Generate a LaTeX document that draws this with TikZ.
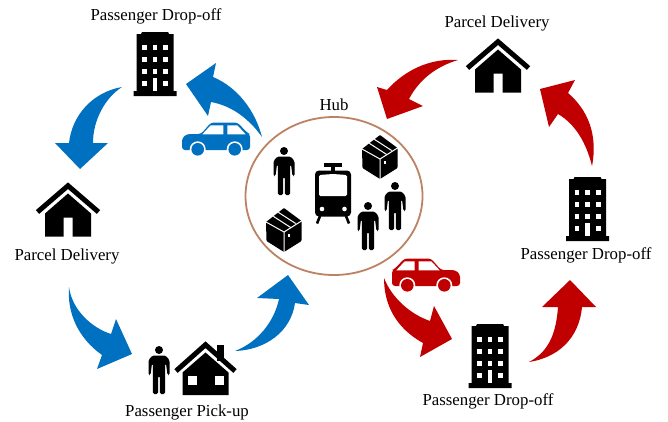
\documentclass[tikz,border=0pt]{standalone}
\usepackage{fontspec}
\setmainfont{Liberation Serif}
\usepackage{xcolor}
\usetikzlibrary{positioning}
\definecolor{routeblue}{HTML}{0070C0}
\definecolor{routered}{HTML}{C00000}
\definecolor{hubring}{HTML}{BC8263}
\tikzset{
    lbl/.style={font=\fontsize{16.8}{20}\selectfont, inner sep=0pt},
    tower/.pic={
        \fill (-13,0) -- (13,0) -- (14,2) -- (18.5,2) -- (18.5,59) -- (21.5,59) -- (21.5,64) -- (-21.5,64) -- (-21.5,59) -- (-18.5,59) -- (-18.5,2) -- (-14,2) -- cycle;
        \foreach \r in {15.3,27.3,39.7} {
            \foreach \c in {-10.7,0,10.7} {
                \fill[white] (\c-2.3,\r-2.3) rectangle (\c+2.3,\r+2.3);
            }
        }
        \fill[white] (-13,49.3) rectangle (-8.4,54);
        \fill[white] (8.4,49.3) rectangle (13,54);
        \fill[white] (-2.3,46) rectangle (2.3,59);
    },
    house/.pic={
        \draw[line width=5pt] (-30.5,30) -- (0,3.7) -- (30.5,30);
        \fill (0,11.5) -- (23,31.5) -- (23,54.5) -- (4.5,54.5) -- (4.5,35.5) -- (-4.5,35.5) -- (-4.5,54.5) -- (-23,54.5) -- (-23,31.5) -- cycle;
    },
    pickhouse/.pic={
        \fill (11.5,4) rectangle (18.5,20);
        \draw[line width=5pt] (-29.5,30) -- (0,3.7) -- (29.5,30);
        \fill (0,11.5) -- (23,31.5) -- (23,54) -- (-23,54) -- (-23,31.5) -- cycle;
        \fill[white] (-18,35) rectangle (-8.7,44);
        \fill[white] (9,35) rectangle (18.3,44);
    },
    person/.pic={
        \fill (0,4) circle[radius=4];
        \fill[rounded corners=1.5pt] (-6.5,9.5) -- (6.5,9.5) -- (10.5,14) -- (10.5,29) -- (8.5,29) -- (7,17.5) -- (6.2,17.5) -- (6.2,48) -- (0.9,48) -- (0.9,30) -- (-0.9,30) -- (-0.9,48) -- (-6.2,48) -- (-6.2,17.5) -- (-7,17.5) -- (-8.5,29) -- (-10.5,29) -- (-10.5,14) -- cycle;
    },
    parcel/.pic={
        \fill[rounded corners=0.8pt] (-18,-10) -- (0,-24) -- (17.5,-11) -- (17.5,9) -- (0,20) -- (-17.5,9) -- cycle;
        \draw[white, line width=1pt] (-18,-10) -- (0,0) -- (17.5,-11) (0,0) -- (0,20);
        \draw[white, line width=1pt] (-10.7,-15.7) -- (6.7,-4.5) (-5.7,-19.7) -- (11.7,-8.5);
        \fill[white] (3.5,2) rectangle (6,4.5);
    },
    tram/.pic={
        \fill (-9,0) rectangle (9,3.5);
        \fill (-1.7,3) rectangle (1.7,8);
        \fill[rounded corners=4pt] (-18,7.5) rectangle (18,53.5);
        \fill[white, rounded corners=1.5pt] (-14,12) -- (0,11) -- (14,12) -- (14,33) -- (-14,33) -- cycle;
        \fill[white] (-11,46) circle[radius=2.3] (11.5,46) circle[radius=2.3];
        \draw[line width=2.6pt] (-13,53) -- (-16,60.5) (13,53) -- (16,60.5);
    },
    car/.pic={
        \fill[rounded corners=3pt] (0,28) -- (0,12) -- (2.5,11) -- (12.5,0.5) -- (39,0.5) -- (49,12) -- (63,12) -- (68,16) -- (68,28) -- cycle;
        \fill[white] (4.3,12.3) -- (22.7,12.3) -- (22.7,3.3) -- (12.7,3.3) -- cycle;
        \fill[white] (26.7,3.3) -- (39.3,3.3) -- (47.7,12.3) -- (26.7,12.3) -- cycle;
        \fill[white] (15.3,27.3) circle[radius=8] (52.3,27.3) circle[radius=8];
        \fill (15.3,27.3) circle[radius=6.3] (52.3,27.3) circle[radius=6.3];
    }
}

\begin{document}
\begin{tikzpicture}[x=1pt, y=-1pt]
    \useasboundingbox (0,0) rectangle (668,421);
    % Hub
    \draw[hubring, line width=1.8pt] (334,196) ellipse[x radius=88.5, y radius=79];
    \node[lbl] (H) at (334,105) {Hub};
    \pic at (284,147) {person};
    \pic at (395,182) {person};
    \pic at (368,202) {person};
    \pic at (380,159) {parcel};
    \pic at (284,232) {parcel};
    \pic at (333,163) {tram};
    % Blue route
    \pic at (155,32) {tower};
    \pic at (68,182) {house};
    \pic at (159,346) {person};
    \pic at (205.5,341) {pickhouse};
    \pic[routeblue, xscale=-1] at (250,122) {car};
    \node[lbl] (BD) at (156,16) {Passenger Drop-off};
    \node[lbl] (BP) at (67,256) {Parcel Delivery};
    \node[lbl] (BU) at (187,412.5) {Passenger Pick-up};
    \fill[routeblue] (262,137) .. controls (255,110) and (237,87) .. (213,77) -- (216,63) -- (186,84) -- (208,116) -- (211,102) .. controls (233,106) and (250,120) .. (262,137) -- cycle;
    \fill[routeblue] (122,87) .. controls (93,92) and (72,115) .. (69,143) -- (55,143) -- (80,169) -- (108,143) -- (93,143) .. controls (93,120) and (105,98) .. (122,87) -- cycle;
    \fill[routeblue] (69,287) .. controls (67,313) and (78,338) .. (102,355) -- (97,369) -- (132,354) -- (116,319) -- (111,334) .. controls (92,328) and (72,310) .. (69,287) -- cycle;
    \fill[routeblue] (235,351) .. controls (258,342) and (274,322) .. (279,299) -- (257,298) -- (288,275) -- (309,305) -- (295,303) .. controls (291,332) and (265,350) .. (235,351) -- cycle;
    % Red route
    \pic at (498,38) {house};
    \pic at (587.5,177) {tower};
    \pic at (490,324) {tower};
    \pic[routered] at (392,258) {car};
    \node[lbl] (RP) at (497,23) {Parcel Delivery};
    \node[lbl] (RD) at (586,255.5) {Passenger Drop-off};
    \node[lbl] (RL) at (488,401) {Passenger Drop-off};
    \fill[routered] (384,278) .. controls (384,305) and (396,328) .. (423,343) -- (420,357) -- (452,339) -- (434,306) -- (430,321) .. controls (410,314) and (392,298) .. (384,278) -- cycle;
    \fill[routered] (529,362) .. controls (548,352) and (556,335) .. (558,307) -- (542,307) -- (570,280) -- (596,307) -- (582,307) .. controls (579,340) and (556,358) .. (529,362) -- cycle;
    \fill[routered] (592,166) .. controls (598,135) and (588,110) .. (568,93) -- (575,80) -- (540,89) -- (549,127) -- (558,114) .. controls (575,124) and (586,142) .. (592,166) -- cycle;
    \fill[routered] (458,60) .. controls (430,58) and (405,70) .. (387,90) -- (377,87) -- (387,119) -- (423,106) -- (409,99) .. controls (420,78) and (438,66) .. (458,60) -- cycle;
\end{tikzpicture}
\end{document}
